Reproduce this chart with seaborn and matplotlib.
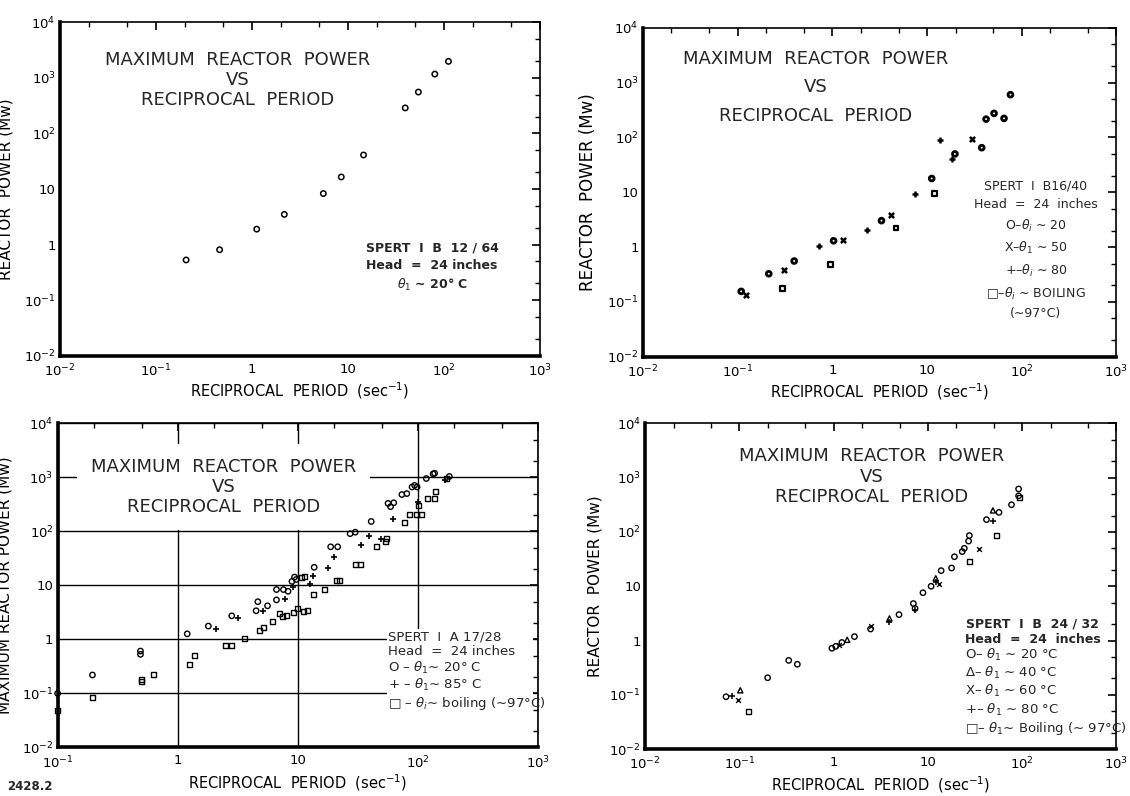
import numpy as np
import matplotlib
matplotlib.use("Agg")
import matplotlib.pyplot as plt
import seaborn as sns
from matplotlib.ticker import FixedLocator, FixedFormatter, LogLocator, NullFormatter
from matplotlib.patches import Rectangle

# ---------------- data ----------------
# Panel A: SPERT I B 12/64 (theta ~ 20 C)
a_x = [0.206, 0.46, 1.12, 2.17, 5.53, 8.5, 14.5, 39.4, 54, 80, 111]
a_y = [0.53, 0.81, 1.9, 3.5, 8.3, 16.5, 41, 288, 556, 1170, 1980]

# Panel B: SPERT I B16/40
b20_x = [0.109, 0.213, 0.395, 1.03, 3.3, 11.2, 19.7, 37.8, 42, 51, 65, 76]
b20_y = [0.155, 0.325, 0.555, 1.3, 3.03, 17.8, 50, 65, 216, 275, 223, 603]
b50_x = [0.122, 0.312, 1.29, 4.2, 29.6]
b50_y = [0.134, 0.385, 1.34, 3.8, 95]
b80_x = [0.73, 2.34, 7.4, 13.7, 18.4]
b80_y = [1.03, 2.05, 9.1, 88, 39.6]
bboil_x = [0.30, 0.96, 4.7, 12.0]
bboil_y = [0.178, 0.48, 2.23, 9.5]

# Panel C: SPERT I A 17/28
c20_x = [0.1, 0.195, 0.49, 0.49, 1.2, 1.8, 2.82, 4.5, 4.65, 5.6, 6.65, 6.65, 7.6, 8.3, 8.95,
         9.4, 9.7, 13.7, 18.8, 21.5, 27.3, 30.1, 40.9, 56.5, 59.3, 63, 73.7, 81, 89.5, 94,
         98.6, 117.6, 134, 138, 183]
c20_y = [0.10, 0.22, 0.61, 0.53, 1.27, 1.77, 2.74, 3.4, 5.0, 4.2, 8.4, 5.4, 8.4, 7.8, 11.9,
         14.3, 12.9, 21.7, 52, 52, 91, 97, 153, 331, 288, 340, 483, 503, 666, 714,
         666, 957, 1164, 1196, 1043]
c85_x = [2.07, 3.2, 5.1, 7.8, 9.1, 12.7, 13.4, 17.9, 20.2, 33.6, 39.5, 49, 62.7, 100, 168]
c85_y = [1.59, 2.45, 3.4, 5.5, 9.4, 10.8, 14.7, 21, 33, 56, 84, 73, 169, 345, 880]
cboil_x = [0.1, 0.195, 0.497, 0.497, 0.627, 1.25, 1.38, 2.48, 2.82, 3.6, 4.8, 5.2, 6.2, 7.0,
           7.45, 8.1, 9.2, 10, 11.2, 12.1, 10.7, 11.4, 13.4, 16.6, 21.1, 22.2, 30.1, 33.6,
           45, 54, 55, 77, 85, 97, 107, 101, 121, 138, 141, 174]
cboil_y = [0.048, 0.084, 0.18, 0.17, 0.22, 0.34, 0.51, 0.76, 0.76, 1.04, 1.46, 1.68, 2.16,
           3.06, 2.66, 2.74, 3.2, 3.7, 3.3, 3.4, 14.3, 14.7, 6.9, 8.4, 12.2, 12.6, 24.9,
           24.9, 52, 64, 73, 147, 208, 208, 208, 309, 407, 407, 540, 945]

# Panel D: SPERT I B 24/32
d20_x = [0.072, 0.199, 0.333, 0.411, 0.957, 1.05, 1.22, 1.66, 2.46, 4.93, 7.0, 7.3, 8.85,
         10.8, 13.8, 17.8, 19.1, 23.1, 24.3, 27, 27.5, 41.8, 56.7, 77, 91.6, 91.6]
d20_y = [0.092, 0.206, 0.43, 0.365, 0.72, 0.78, 0.92, 1.18, 1.63, 3.0, 4.8, 3.9, 7.6,
         10, 19.4, 21.7, 35, 43.5, 50, 68, 86, 169, 230, 318, 621, 463]
d40_x = [0.102, 1.39, 3.9, 12.1, 48.9]
d40_y = [0.121, 1.03, 2.55, 14, 250]
d60_x = [0.0975, 1.15, 2.5, 13.2, 34.5]
d60_y = [0.079, 0.83, 1.88, 10.8, 49]
d80_x = [0.084, 3.9, 7.3, 12.3, 49.5]
d80_y = [0.095, 2.22, 3.6, 11.9, 158]
dboil_x = [0.124, 27.7, 53.3, 93]
dboil_y = [0.0495, 28.7, 88, 437]

title_text = "MAXIMUM  REACTOR  POWER\nVS\nRECIPROCAL  PERIOD"
ylabel_main = "REACTOR  POWER (Mw)"
ylabel_c = "MAXIMUM REACTOR POWER (Mw)"
xlabel = "RECIPROCAL  PERIOD  (sec$^{-1}$)"

# ---------------- style ----------------
sns.set_theme(style="white")
plt.rcParams["font.family"] = ["DejaVu Sans"]
plt.rcParams["mathtext.fontset"] = "dejavusans"

fig = plt.figure(figsize=(11.3, 7.96), dpi=100)
axA = fig.add_axes([0.053, 0.553, 0.425, 0.419])
axB = fig.add_axes([0.569, 0.552, 0.419, 0.413])
axC = fig.add_axes([0.051, 0.061, 0.425, 0.407])
axD = fig.add_axes([0.571, 0.059, 0.417, 0.409])


def lab(e):
    if e == 0:
        return "1"
    if e == 1:
        return "10"
    return r"$10^{%d}$" % e


def style_axes(ax, xe0, xe1):
    ax.set_xscale("log")
    ax.set_yscale("log")
    ax.set_xlim(10.0 ** xe0, 10.0 ** xe1)
    ax.set_ylim(1e-2, 1e4)
    xe = list(range(xe0, xe1 + 1))
    ye = list(range(-2, 5))
    ax.xaxis.set_major_locator(FixedLocator([10.0 ** e for e in xe]))
    ax.xaxis.set_major_formatter(FixedFormatter([lab(e) for e in xe]))
    ax.yaxis.set_major_locator(FixedLocator([10.0 ** e for e in ye]))
    ax.yaxis.set_major_formatter(FixedFormatter([lab(e) for e in ye]))
    ax.xaxis.set_minor_locator(LogLocator(base=10, subs=(2, 5)))
    ax.yaxis.set_minor_locator(LogLocator(base=10, subs=(2, 5)))
    ax.xaxis.set_minor_formatter(NullFormatter())
    ax.yaxis.set_minor_formatter(NullFormatter())
    ax.tick_params(which="both", direction="in", top=True, right=True,
                   color="black", labelcolor="black", labelsize=9.5)
    ax.tick_params(which="major", length=6, width=1.2)
    ax.tick_params(which="minor", length=3.5, width=1.0)
    ax.tick_params(axis="x", which="major", pad=5)
    ax.tick_params(axis="y", which="major", pad=3)
    for side in ["left", "bottom"]:
        ax.spines[side].set_linewidth(2.6)
        ax.spines[side].set_color("black")
    for side in ["top", "right"]:
        ax.spines[side].set_linewidth(1.2)
        ax.spines[side].set_color("black")
    ax.set_xlabel(xlabel, fontsize=10.5, color="black", labelpad=1)


def pts(ax, x, y, marker, s=16, lw=1.0):
    if marker in ("+", "x"):
        sns.scatterplot(x=x, y=y, marker=marker, s=s, color="black",
                        linewidth=lw, ax=ax, clip_on=False, zorder=4)
    else:
        sns.scatterplot(x=x, y=y, marker=marker, s=s, facecolor="none",
                        edgecolor="black", linewidth=lw, ax=ax, clip_on=False, zorder=4)


# ---------------- Panel A ----------------
pts(axA, a_x, a_y, "o", s=15, lw=1.1)
style_axes(axA, -2, 3)
axA.set_ylabel(ylabel_main, fontsize=11, color="black")
axA.yaxis.set_label_coords(-0.097, 0.5)
axA.text(0.37, 0.827, title_text, transform=axA.transAxes, ha="center", va="center",
         fontsize=13, linespacing=1.15, multialignment="center")
axA.text(0.775, 0.266, "SPERT  I  B  12 / 64\nHead  =  24 inches\n$\\theta_1$ ∼ 20° C",
         transform=axA.transAxes, ha="center", va="center", fontsize=9,
         fontweight="bold", linespacing=1.45, multialignment="center")

# ---------------- Panel B ----------------
pts(axB, b20_x, b20_y, "o", s=12, lw=2.0)
pts(axB, b50_x, b50_y, "x", s=14, lw=1.8)
pts(axB, b80_x, b80_y, "+", s=16, lw=1.8)
pts(axB, bboil_x, bboil_y, "s", s=12, lw=1.6)
style_axes(axB, -2, 3)
axB.set_ylabel(ylabel_main, fontsize=12, color="black")
axB.yaxis.set_label_coords(-0.097, 0.5)
axB.text(0.365, 0.82, title_text, transform=axB.transAxes, ha="center", va="center",
         fontsize=13, linespacing=1.75, multialignment="center")
axB.text(0.83, 0.325,
         "SPERT  I  B16/40\nHead  =  24  inches\nO–$\\theta_i$ ∼ 20\nX–$\\theta_1$ ∼ 50\n"
         "+–$\\theta_i$ ∼ 80\n□–$\\theta_i$ ∼ BOILING\n(∼97°C)",
         transform=axB.transAxes, ha="center", va="center", fontsize=9,
         linespacing=1.55, multialignment="center")

# ---------------- Panel C ----------------
pts(axC, c20_x, c20_y, "o", s=15, lw=1.0)
pts(axC, c85_x, c85_y, "+", s=16, lw=1.2)
pts(axC, cboil_x, cboil_y, "s", s=13, lw=1.0)
style_axes(axC, -1, 3)
axC.grid(True, which="major", color="black", linewidth=1.0)
axC.set_axisbelow(True)
axC.set_ylabel(ylabel_c, fontsize=11, color="black")
axC.yaxis.set_label_coords(-0.093, 0.5)
axC.add_patch(Rectangle((0.685, 0.0), 0.305, 0.365, transform=axC.transAxes,
                        facecolor="white", edgecolor="none", zorder=1.5))
axC.text(0.345, 0.805, title_text, transform=axC.transAxes, ha="center", va="center",
         fontsize=13, linespacing=1.15, multialignment="center", zorder=3,
         bbox=dict(facecolor="white", edgecolor="none", pad=10))
axC.text(0.687, 0.235,
         "SPERT  I  A 17/28\nHead  =  24 inches\nO – $\\theta_1$∼ 20° C\n"
         "+ – $\\theta_1$∼ 85° C\n□ – $\\theta_i$∼ boiling (∼97°C)",
         transform=axC.transAxes, ha="left", va="center", fontsize=9.5,
         linespacing=1.12, zorder=3)
fig.text(0.026, 0.012, "2428.2", fontsize=8.5, fontweight="bold", ha="center", va="center")

# ---------------- Panel D ----------------
pts(axD, d20_x, d20_y, "o", s=15, lw=1.0)
pts(axD, d40_x, d40_y, "^", s=14, lw=1.0)
pts(axD, d60_x, d60_y, "x", s=12, lw=1.0)
pts(axD, d80_x, d80_y, "+", s=14, lw=1.1)
pts(axD, dboil_x, dboil_y, "s", s=13, lw=1.0)
style_axes(axD, -2, 3)
axD.set_ylabel(ylabel_main, fontsize=11, color="black")
axD.yaxis.set_label_coords(-0.09, 0.5)
axD.text(0.481, 0.837, title_text, transform=axD.transAxes, ha="center", va="center",
         fontsize=13, linespacing=1.15, multialignment="center")
axD.text(0.822, 0.361, "SPERT  I  B  24 / 32\nHead  =  24  inches",
         transform=axD.transAxes, ha="center", va="center", fontsize=9,
         fontweight="bold", linespacing=1.3, multialignment="center")
axD.text(0.678, 0.176,
         "O– $\\theta_1$ ∼ 20 °C\nΔ– $\\theta_1$ ∼ 40 °C\nX– $\\theta_1$ ∼ 60 °C\n"
         "+– $\\theta_1$ ∼ 80 °C\n□– $\\theta_1$∼ Boiling (∼ 97°C)",
         transform=axD.transAxes, ha="left", va="center", fontsize=9.5,
         linespacing=1.18)

fig.savefig("out.png", dpi=100, facecolor="white")
